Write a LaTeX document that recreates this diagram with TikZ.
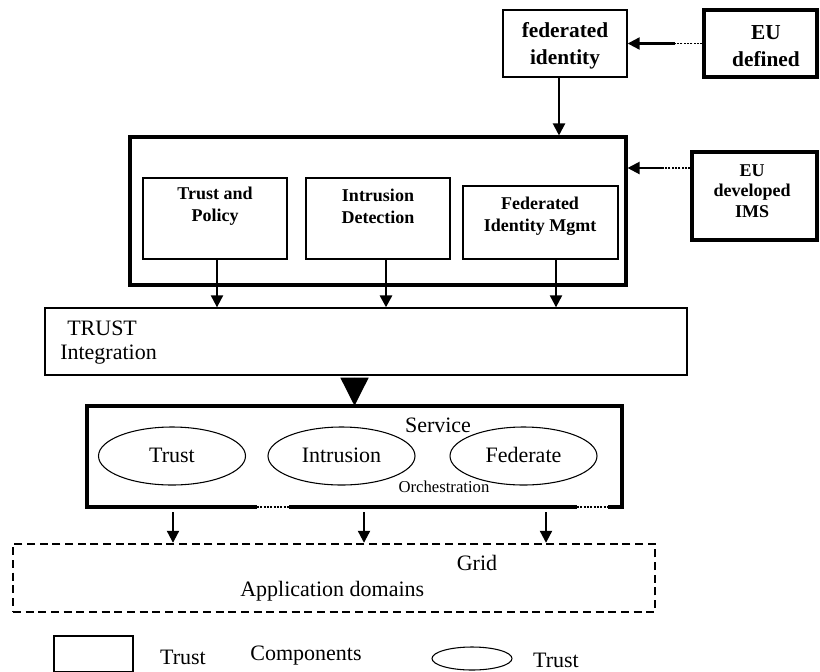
\documentclass[tikz,border=0pt]{standalone}
\usepackage{fontspec}
\setmainfont{Liberation Serif}
\usetikzlibrary{arrows.meta,shapes.geometric,calc}

\begin{document}
\begin{tikzpicture}[x=0.75pt,y=-0.75pt,
  thinbox/.style={draw,line width=1pt,inner sep=0pt},
  thickbox/.style={draw,line width=2.3pt,inner sep=0pt},
  oval/.style={draw,ellipse,line width=0.8pt,inner sep=0pt},
  boldbig/.style={font=\bfseries\fontsize{16pt}{20pt}\selectfont,align=center,inner sep=0pt},
  boldsmall/.style={font=\bfseries\fontsize{13.5pt}{16.5pt}\selectfont,align=center,inner sep=0pt},
  plain/.style={font=\fontsize{16.5pt}{19pt}\selectfont,inner sep=0pt},
  tiny/.style={font=\fontsize{12.5pt}{14pt}\selectfont,inner sep=0pt},
  arr/.style={line width=1.6pt,-{Triangle[width=9pt,length=9pt]}},
  bigarr/.style={line width=1pt,-{Triangle[width=21pt,length=21pt]}},
  dots/.style={line width=1.2pt,dash pattern=on 1.5pt off 1pt}]

\useasboundingbox (0,0) rectangle (820,671);

% top row: identity sources
\node[thinbox,minimum width=93pt,minimum height=50.25pt] (fed) at (565,43.5) {};
\node[boldbig] (fedtxt) at (565,46) {federated\\identity};
\node[thickbox,minimum width=84.75pt,minimum height=50.25pt] (eud) at (760.5,43.5) {};
\node[boldbig] (eudtxt) at (766,46) {EU\\defined};

% security components
\node[thickbox,minimum width=372pt,minimum height=111pt] (outer) at (378,211) {};
\node[thinbox,minimum width=108pt,minimum height=60.75pt] (tp) at (215,218.5) {};
\node[boldsmall] (tptxt) at (215,206) {Trust and\\Policy};
\node[thinbox,minimum width=108pt,minimum height=60.75pt] (idb) at (378,218.5) {};
\node[boldsmall] (idtxt) at (378,206) {Intrusion\\Detection};
\node[thinbox,minimum width=116.25pt,minimum height=54.75pt] (fim) at (540.5,222.5) {};
\node[boldsmall] (fimtxt) at (540,216) {Federated\\Identity Mgmt};
\node[thickbox,minimum width=93.75pt,minimum height=66pt] (eudev) at (754.5,196) {};
\node[boldsmall,font=\bfseries\fontsize{13.5pt}{15.5pt}\selectfont] (eudevtxt) at (752,191) {EU\\developed\\IMS};

% integration layer
\node[thinbox,minimum width=481.5pt,minimum height=50.25pt] (trust) at (366,341.5) {};
\node[plain,anchor=west] (trusttxt) at (67,328) {TRUST};
\node[plain,anchor=west] (integtxt) at (60,355) {Integration};

% service orchestration layer (border drawn below)
\node[minimum width=401.25pt,minimum height=75.75pt,inner sep=0pt] (svc) at (354.5,456.5) {};
\node[oval,minimum width=110.25pt,minimum height=43.5pt] (e1) at (172,456) {};
\node[plain] (e1txt) at (172,455) {Trust};
\node[oval,minimum width=110.25pt,minimum height=43.5pt] (e2) at (341.5,456) {};
\node[plain] (e2txt) at (341.5,455) {Intrusion};
\node[oval,minimum width=110.25pt,minimum height=43.5pt] (e3) at (523.5,456) {};
\node[plain] (e3txt) at (523.5,455) {Federate};
\node[plain] (svctxt) at (438,425) {Service};
\node[tiny] (orchtxt) at (444,487) {Orchestration};

% grid application domains
\node[draw,line width=1.8pt,dash pattern=on 6pt off 3.5pt,inner sep=0pt,
      minimum width=481.5pt,minimum height=51pt] (grid) at (334,578) {};
\node[plain] (gridtxt) at (477,563) {Grid};
\node[plain,anchor=west] (apptxt) at (240,591) {Application domains};

% legend
\node[thinbox,minimum width=59.25pt,minimum height=27pt] (lrect) at (93.5,654) {};
\node[plain] (l1) at (183,657) {Trust};
\node[plain] (l2) at (306,656) {Components};
\node[oval,minimum width=60pt,minimum height=17.25pt] (lell) at (472,658.5) {};
\node[plain] (l3) at (556,660) {Trust};

% service box border with dotted breaks along the bottom
\draw[line width=2.3pt] (257,507) -- (87,507) -- (87,406) -- (622,406) -- (622,507) -- (608,507);
\draw[line width=2.3pt] (289,507) -- (577,507);
\draw[dots] (257,507) -- (289,507);
\draw[dots] (577,507) -- (608,507);

% connectors
\coordinate (c1) at ($(eud.west)+(-27,0)$);
\draw[dots] (eud.west) -- (c1);
\draw[arr] (c1) -- (c1 -| fed.east);

\coordinate (c2) at ($(fed.south)+(-6,0)$);
\draw[arr] (c2) -- (c2 |- outer.north);

\coordinate (c3) at ($(eudev.west)+(-27,-28)$);
\draw[dots] (eudev.west |- c3) -- (c3);
\draw[arr] (c3) -- (c3 -| outer.east);

\coordinate (c4) at ($(tp.south)+(2,0)$);
\coordinate (c5) at ($(idb.south)+(8,0)$);
\coordinate (c6) at ($(fim.south)+(15.5,0)$);
\draw[arr] (c4) -- (c4 |- trust.north);
\draw[arr,line width=2.2pt] (c5) -- (c5 |- trust.north);
\draw[arr] (c6) -- (c6 |- trust.north);

\draw[bigarr] ($(trust.south -| svc.north)+(0,2)$) -- (svc.north);

\coordinate (c7) at (173,512);
\coordinate (c8) at (364,512);
\coordinate (c9) at (546,512);
\draw[arr] (c7) -- (c7 |- grid.north);
\draw[arr] (c8) -- (c8 |- grid.north);
\draw[arr] (c9) -- (c9 |- grid.north);
\end{tikzpicture}
\end{document}
